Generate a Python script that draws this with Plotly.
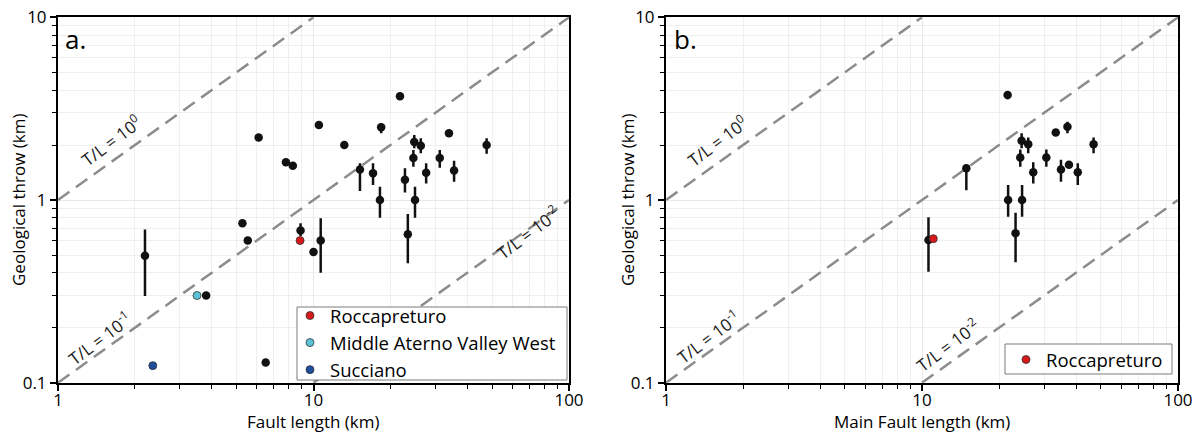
import numpy as np
import plotly.graph_objects as go
from plotly.subplots import make_subplots

# panel a: fault length vs geological throw (km)
len_a = [2.19, 3.8, 5.27, 5.53, 6.1, 6.5, 7.8, 8.3, 8.9, 10.0, 10.67, 10.5, 13.2, 15.2, 17.1,
         18.2, 18.4, 21.8, 22.8, 23.4, 24.6, 24.8, 24.96, 26.3, 27.6, 31.2, 33.9, 35.5, 47.6]
throw_a = [0.496, 0.3, 0.745, 0.6, 2.2, 0.129, 1.61, 1.54, 0.68, 0.52, 0.6, 2.57, 2.0, 1.47, 1.40,
           1.0, 2.5, 3.7, 1.29, 0.65, 1.70, 2.08, 1.0, 1.98, 1.41, 1.70, 2.32, 1.45, 2.0]
throw_a_hi = [0.69, 0.3, 0.745, 0.6, 2.2, 0.129, 1.61, 1.54, 0.745, 0.52, 0.795, 2.57, 2.0, 1.59, 1.59,
              1.18, 2.63, 3.7, 1.49, 0.838, 1.88, 2.27, 1.18, 2.18, 1.59, 1.88, 2.32, 1.64, 2.18]
throw_a_lo = [0.298, 0.3, 0.745, 0.6, 2.2, 0.129, 1.61, 1.54, 0.635, 0.52, 0.40, 2.57, 2.0, 1.12, 1.21,
              0.80, 2.32, 3.7, 1.10, 0.45, 1.52, 1.92, 0.80, 1.80, 1.23, 1.50, 2.32, 1.26, 1.79]

# highlighted faults in panel a
named_faults = ['Roccapreturo', 'Middle Aterno Valley West', 'Succiano']
named_len = [8.86, 3.5, 2.35]
named_throw = [0.6, 0.3, 0.124]
named_colors = ['#d7191c', '#5bc3d8', '#1f4e9c']

# panel b: main fault length vs geological throw (km)
len_b = [10.6, 14.9, 21.6, 21.7, 23.2, 24.2, 24.5, 24.6, 26.0, 27.2, 30.6, 33.3, 34.9, 37.0, 37.5, 40.6, 46.8]
throw_b = [0.604, 1.49, 3.76, 1.0, 0.657, 1.71, 2.11, 1.0, 2.02, 1.42, 1.71, 2.34, 1.47, 2.52, 1.56, 1.42, 2.02]
throw_b_hi = [0.804, 1.54, 3.92, 1.21, 0.852, 1.89, 2.32, 1.21, 2.2, 1.61, 1.89, 2.34, 1.66, 2.68, 1.56, 1.59, 2.20]
throw_b_lo = [0.405, 1.13, 3.56, 0.81, 0.456, 1.52, 1.92, 0.81, 1.8, 1.23, 1.52, 2.34, 1.26, 2.32, 1.56, 1.21, 1.80]
rocca_b_len = [11.07]
rocca_b_throw = [0.614]

# T/L reference ratios
ratios = [1.0, 0.1, 0.01]
ratio_labels = ['T/L = 10<sup>0</sup>', 'T/L = 10<sup>-1</sup>', 'T/L = 10<sup>-2</sup>']

FONT = 'Open Sans'
W, H = 1203, 433

fig = make_subplots(rows=1, cols=2)


def add_ratio_lines(col):
    for r in ratios:
        xs = [max(1.0, 0.1 / r), min(100.0, 10.0 / r)]
        fig.add_trace(go.Scatter(
            x=xs, y=[v * r for v in xs], mode='lines',
            line=dict(color='#8c8c8c', width=2.5, dash='14px,8px'),
            showlegend=False, hoverinfo='skip'), row=1, col=col)


def add_points(col, xs, ys, hi, lo):
    fig.add_trace(go.Scatter(
        x=xs, y=ys, mode='markers',
        marker=dict(color='#111111', size=8.5),
        error_y=dict(type='data', symmetric=False,
                     array=[h - y for h, y in zip(hi, ys)],
                     arrayminus=[y - l for l, y in zip(lo, ys)],
                     color='#111111', thickness=2.5, width=0),
        showlegend=False), row=1, col=col)


add_ratio_lines(1)
add_ratio_lines(2)
add_points(1, len_a, throw_a, throw_a_hi, throw_a_lo)
add_points(2, len_b, throw_b, throw_b_hi, throw_b_lo)

for name, x, y, c in zip(named_faults, named_len, named_throw, named_colors):
    fig.add_trace(go.Scatter(
        x=[x], y=[y], mode='markers', name=name, legend='legend',
        marker=dict(color=c, size=8, line=dict(color='#333333', width=0.8))), row=1, col=1)

fig.add_trace(go.Scatter(
    x=rocca_b_len, y=rocca_b_throw, mode='markers', name='Roccapreturo', legend='legend2',
    marker=dict(color=named_colors[0], size=8, line=dict(color='#333333', width=0.8))), row=1, col=2)

minor_vals = [m * d for d in (0.1, 1, 10) for m in range(2, 10)]
axis_style = dict(
    type='log', showline=True, linecolor='black', linewidth=2, mirror=True,
    ticks='outside', ticklen=6, tickwidth=1.5, tickcolor='black',
    showgrid=True, gridcolor='#e8e8e8', gridwidth=1, zeroline=False,
    tickfont=dict(family=FONT, size=17, color='black'),
    minor=dict(tickmode='array', tickvals=minor_vals, ticks='outside', ticklen=4,
               tickcolor='black', tickwidth=1, showgrid=True, gridcolor='#efefef', gridwidth=1),
    automargin=False,
)
y_top = 1 - 17.3 / H
y_bot = 1 - 382.7 / H
fig.update_xaxes(**axis_style, range=[0, 2], tickmode='array', tickvals=[1, 10, 100], ticktext=['1', '10', '100'])
fig.update_yaxes(**axis_style, range=[-1, 1], tickmode='array', tickvals=[0.1, 1, 10], ticktext=['0.1', '1', '10'])
fig.update_xaxes(ticklabelstandoff=-5)
fig.update_layout(
    xaxis=dict(domain=[58 / W, 569 / W]),
    xaxis2=dict(domain=[666 / W, 1178 / W]),
    yaxis=dict(domain=[y_bot, y_top]),
    yaxis2=dict(domain=[y_bot, y_top]),
)

annotations = []
# axis titles
for xc, txt in [(313.5 / W, 'Fault length (km)'), (922 / W, 'Main Fault length (km)')]:
    annotations.append(dict(x=xc, y=1 - 421 / H, xref='paper', yref='paper', text=txt, showarrow=False,
                            font=dict(family=FONT, size=17, color='black'), xanchor='center', yanchor='middle'))
for xc in [19 / W, 628 / W]:
    annotations.append(dict(x=xc, y=1 - 200 / H, xref='paper', yref='paper', text='Geological throw (km)',
                            showarrow=False, textangle=-90,
                            font=dict(family=FONT, size=17, color='black'), xanchor='center', yanchor='middle'))
# panel letters
for xl, txt in [(63 / W, 'a.'), (672 / W, 'b.')]:
    annotations.append(dict(x=xl, y=1 - 19 / H, xref='paper', yref='paper', text=txt, showarrow=False,
                            font=dict(family=FONT, size=26, color='black'), xanchor='left', yanchor='top'))

# ratio labels (positions in data units)
label_pos = {
    1: [(1.6, 2.13), (1.46, 0.176), (68.5, 0.668)],
    2: [(1.58, 2.13), (1.46, 0.178), (12.6, 0.161)],
}
for col, pts in label_pos.items():
    xr, yr = ('x', 'y') if col == 1 else ('x2', 'y2')
    for (lx, ly), txt in zip(pts, ratio_labels):
        annotations.append(dict(x=np.log10(lx), y=np.log10(ly), xref=xr, yref=yr, text=txt, showarrow=False,
                                textangle=-37, font=dict(family=FONT, size=17, color='#1a1a1a'),
                                xanchor='center', yanchor='middle'))

# legend frames drawn as shapes so their size can match the reference
shapes = []
for (x0, y0, x1, y1) in [(297, 307, 567, 380), (1005, 344, 1172, 374)]:
    shapes.append(dict(type='rect', xref='paper', yref='paper', layer='above',
                       x0=x0 / W, x1=x1 / W, y0=1 - y1 / H, y1=1 - y0 / H,
                       fillcolor='white', line=dict(color='#7a7a7a', width=1)))

legend_style = dict(bgcolor='rgba(0,0,0,0)', borderwidth=0,
                    font=dict(family=FONT, size=18.5, color='black'),
                    xanchor='left', yanchor='top', itemsizing='trace', tracegroupgap=0)
fig.update_layout(
    width=W, height=H,
    margin=dict(l=0, r=0, t=0, b=0),
    plot_bgcolor='white', paper_bgcolor='white',
    font=dict(family=FONT, size=17, color='black'),
    annotations=annotations,
    shapes=shapes,
    legend=dict(**legend_style, x=290 / W, y=1 - 297 / H),
    legend2=dict(**legend_style, x=1006 / W, y=1 - 341 / H),
)

fig.write_html("out.html", config={'displayModeBar': False},
               post_script="document.body.style.margin='0px';")
